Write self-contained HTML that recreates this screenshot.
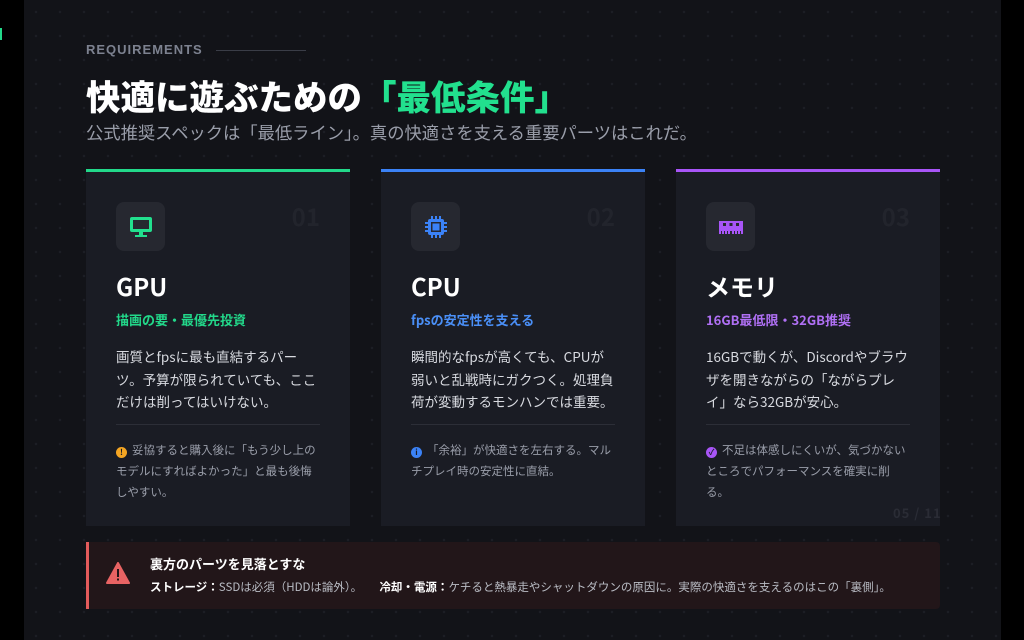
<!DOCTYPE html>
<html><head><meta charset="utf-8"><style>
*{margin:0;padding:0;box-sizing:border-box}
body{width:1024px;height:640px;background:#000;position:relative;overflow:hidden;font-family:"Noto Sans CJK JP","Liberation Sans",sans-serif}
.slide{position:absolute;left:24px;top:0;width:977px;height:640px;background-color:#121318;
background-image:radial-gradient(circle,#1c1e25 1px,transparent 1.5px);background-size:24px 24px}
.mark{position:absolute;left:0;top:28px;width:2px;height:12px;background:#22d88a}
.abs{position:absolute}
.req{left:86px;top:41px;font-size:13px;font-weight:bold;letter-spacing:1px;color:#7d8290;font-family:"Liberation Sans Narrow","Liberation Sans",sans-serif;line-height:18px}
.reqline{left:216px;top:50px;width:90px;height:1px;background:#3a3d47}
h1{position:absolute;left:86px;top:72px;font-size:34.5px;font-weight:900;color:#fff;white-space:nowrap;line-height:46px}
h1 span{color:#22e08e}
.sub{left:86px;top:119px;font-size:17.3px;color:#9a9eaa;white-space:nowrap;line-height:26px}
.card{position:absolute;top:169px;width:264px;height:357px;background:#1a1c24;border-top:3px solid}
.ic{position:absolute;left:30px;top:30px;width:49px;height:49px;border-radius:8px;background:#262830;display:flex;align-items:center;justify-content:center}
.num{position:absolute;right:30px;top:28px;font-size:24px;font-weight:bold;color:#22242c;line-height:32px}
.t{position:absolute;left:30px;top:97px;font-size:24px;font-weight:bold;color:#fff;line-height:34px}
.tag{position:absolute;left:30px;top:138px;font-size:13px;font-weight:bold;white-space:nowrap;line-height:20px}
.d{position:absolute;left:30px;top:173px;width:205px;font-size:13.5px;line-height:22.5px;color:#d8dae0}
.hr{position:absolute;left:30px;top:252px;width:204px;height:1px;background:#2c2e37}
.n{position:absolute;left:30px;top:268px;width:206px;font-size:11.5px;line-height:21px;color:#9a9eaa}
.dot{display:inline-block;width:11px;height:11px;border-radius:50%;vertical-align:-1px;margin-right:5px;color:#1a1c24;font-size:8px;text-align:center;line-height:11px;font-weight:bold}
.ban{left:86px;top:542px;width:854px;height:67px;background:#221619;border-left:3px solid #e35b5b;border-radius:0 4px 4px 0}
.bt{position:absolute;left:61px;top:12px;font-size:13px;font-weight:bold;color:#fff;line-height:20px}
.bd{position:absolute;left:61px;top:36px;font-size:11.5px;color:#b9bcc4;white-space:nowrap;line-height:18px}
.bd b{color:#fff}
.pg{left:893px;top:503px;font-size:13px;font-weight:bold;color:#2a2c35;letter-spacing:1px}
</style></head><body>
<div class="mark"></div>
<div class="slide"></div>
<div class="abs req">REQUIREMENTS</div><div class="abs reqline"></div>
<h1>快適に遊ぶための<span>「最低条件」</span></h1>
<div class="abs sub">公式推奨スペックは「最低ライン」。真の快適さを支える重要パーツはこれだ。</div>

<div class="card" style="left:86px;border-color:#22d88a">
<div class="ic"><svg width="26" height="26" viewBox="0 0 26 26"><rect x="2" y="3" width="22" height="15" rx="2" fill="#22e08e"/><rect x="5" y="6" width="16" height="9" fill="#262830"/><rect x="11" y="18" width="4" height="3" fill="#22e08e"/><rect x="7" y="21" width="12" height="2" fill="#22e08e"/></svg></div>
<div class="num">01</div><div class="t">GPU</div>
<div class="tag" style="color:#22d88a">描画の要・最優先投資</div>
<div class="d">画質とfpsに最も直結するパーツ。予算が限られていても、ここだけは削ってはいけない。</div>
<div class="hr"></div>
<div class="n"><span class="dot" style="background:#f5a623">!</span>妥協すると購入後に「もう少し上のモデルにすればよかった」と最も後悔しやすい。</div>
</div>

<div class="card" style="left:381px;border-color:#3b82f6">
<div class="ic"><svg width="26" height="26" viewBox="0 0 26 26"><g stroke="#3b82f6" stroke-width="2"><path d="M9 2v4M13 2v4M17 2v4M9 20v4M13 20v4M17 20v4M2 9h4M2 13h4M2 17h4M20 9h4M20 13h4M20 17h4"/></g><rect x="5" y="5" width="16" height="16" rx="2" fill="#3b82f6"/><rect x="8" y="8" width="10" height="10" fill="#262830"/><rect x="9.5" y="9.5" width="7" height="7" fill="#3b82f6"/></svg></div>
<div class="num">02</div><div class="t">CPU</div>
<div class="tag" style="color:#4a8ff7">fpsの安定性を支える</div>
<div class="d">瞬間的なfpsが高くても、CPUが弱いと乱戦時にガクつく。処理負荷が変動するモンハンでは重要。</div>
<div class="hr"></div>
<div class="n"><span class="dot" style="background:#3b82f6">i</span>「余裕」が快適さを左右する。マルチプレイ時の安定性に直結。</div>
</div>

<div class="card" style="left:676px;border-color:#a855f7">
<div class="ic"><svg width="28" height="26" viewBox="0 0 28 26"><rect x="2" y="7" width="24" height="10" fill="#a855f7"/><rect x="6" y="9" width="3" height="3" fill="#262830"/><rect x="12.5" y="9" width="3" height="3" fill="#262830"/><rect x="19" y="9" width="3" height="3" fill="#262830"/><path d="M3 17v3M6 17v3M9 17v3M12 17v3M16 17v3M19 17v3M22 17v3M25 17v3" stroke="#a855f7" stroke-width="2"/></svg></div>
<div class="num">03</div><div class="t">メモリ</div>
<div class="tag" style="color:#b070f5">16GB最低限・32GB推奨</div>
<div class="d">16GBで動くが、Discordやブラウザを開きながらの「ながらプレイ」なら32GBが安心。</div>
<div class="hr"></div>
<div class="n"><span class="dot" style="background:#a855f7">✓</span>不足は体感しにくいが、気づかないところでパフォーマンスを確実に削る。</div>
</div>
<div class="abs pg">05 / 11</div>

<div class="abs ban">
<svg class="abs" style="left:17px;top:20px" width="24" height="22" viewBox="0 0 24 22"><path d="M12 1L23 21H1Z" fill="#e86363" stroke="#e86363" stroke-linejoin="round" stroke-width="2"/><rect x="11" y="7" width="2" height="8" fill="#221619"/><rect x="11" y="16.5" width="2" height="2" fill="#221619"/></svg>
<div class="bt">裏方のパーツを見落とすな</div>
<div class="bd"><b>ストレージ：</b>SSDは必須（HDDは論外）。　　<b>冷却・電源：</b>ケチると熱暴走やシャットダウンの原因に。実際の快適さを支えるのはこの「裏側」。</div>
</div>
</body></html>
